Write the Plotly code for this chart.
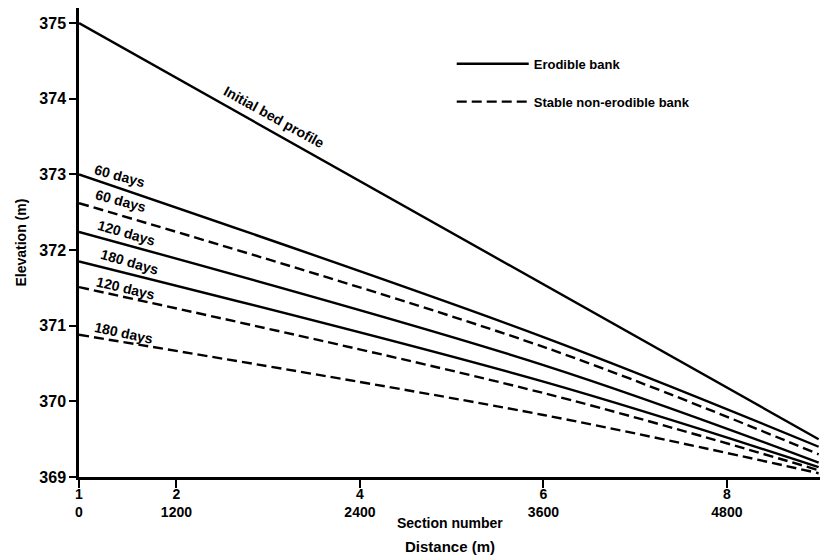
import plotly.graph_objects as go

# Distance along the reach (m) and bed elevation (m) of each computed profile
dist_initial = [0, 5400]
elev_initial = [375.0, 369.5]

dist_profile = [0, 3600, 5400]
erodible_60 = [373.00, 370.85, 369.40]
erodible_120 = [372.24, 370.48, 369.19]
erodible_180 = [371.85, 370.26, 369.13]
stable_60 = [372.62, 370.72, 369.30]
stable_120 = [371.51, 370.11, 369.09]
stable_180 = [370.88, 369.82, 369.05]

tick_distance = [0, 1200, 2400, 3600, 4800]
tick_section = [1, 2, 4, 6, 8]
elev_ticks = [369, 370, 371, 372, 373, 374, 375]

# The first 1200 m reach is drawn compressed on the horizontal axis
FIRST_REACH = 1200.0
FIRST_SCALE = 0.531


def axis_x(dists):
    out = []
    for d in dists:
        if d <= FIRST_REACH:
            out.append(d * FIRST_SCALE)
        else:
            out.append(FIRST_REACH * FIRST_SCALE + (d - FIRST_REACH))
    return out


FONT = "Liberation Sans, Arial, Helvetica, sans-serif"
LW = 2.4
DASH = "10px,5px"

fig = go.Figure()

fig.add_trace(go.Scatter(x=axis_x(dist_initial), y=elev_initial, mode="lines",
                         line=dict(color="black", width=LW), showlegend=False))

solid_series = [erodible_60, erodible_120, erodible_180]
for i, ys in enumerate(solid_series):
    fig.add_trace(go.Scatter(x=axis_x(dist_profile), y=ys, mode="lines",
                             line=dict(color="black", width=LW, shape="spline", smoothing=1.0),
                             name="Erodible bank", legendgroup="erodible",
                             showlegend=(i == 0)))

dashed_series = [stable_60, stable_120, stable_180]
for i, ys in enumerate(dashed_series):
    fig.add_trace(go.Scatter(x=axis_x(dist_profile), y=ys, mode="lines",
                             line=dict(color="black", width=LW, dash=DASH,
                                       shape="spline", smoothing=1.0),
                             name="Stable non-erodible bank", legendgroup="stable",
                             showlegend=(i == 0)))

# Curve labels: (distance, elevation, text, angle)
curve_labels = [
    (1838, 373.76, "Initial bed profile", 29),
    (505, 372.98, "60 days", 15),
    (518, 372.65, "60 days", 15),
    (591, 372.23, "120 days", 16),
    (627, 371.84, "180 days", 16),
    (567, 371.50, "120 days", 13),
    (554, 370.90, "180 days", 12),
]
for d, e, txt, ang in curve_labels:
    fig.add_annotation(x=axis_x([d])[0], y=e, xref="x", yref="y", text=txt,
                       textangle=ang, showarrow=False,
                       font=dict(family=FONT, size=14, color="black", weight="bold"))

tick_text = [f"{s}<br>{d}" for s, d in zip(tick_section, tick_distance)]

fig.update_xaxes(range=[0, 4846], tickvals=axis_x(tick_distance), ticktext=tick_text,
                 showline=True, linecolor="black", linewidth=2.5, mirror=False,
                 ticks="outside", ticklen=8, tickwidth=2, tickcolor="black",
                 ticklabelstandoff=-6,
                 showgrid=False, zeroline=False,
                 tickfont=dict(family=FONT, size=14, color="black", weight="bold"))
fig.update_yaxes(range=[369, 375.2], tickvals=elev_ticks,
                 showline=True, linecolor="black", linewidth=2.5, mirror=False,
                 ticks="outside", ticklen=7, tickwidth=2, tickcolor="black",
                 showgrid=False, zeroline=False,
                 tickfont=dict(family=FONT, size=16, color="black", weight="bold"))

fig.add_annotation(x=-0.0796, y=0.50, xref="paper", yref="paper", text="Elevation (m)",
                   textangle=-90, showarrow=False, xanchor="center", yanchor="middle",
                   font=dict(family=FONT, size=14, color="black", weight="bold"))
fig.add_annotation(x=0.5, y=-0.098, xref="paper", yref="paper", text="Section number",
                   showarrow=False, xanchor="center", yanchor="middle",
                   font=dict(family=FONT, size=14, color="black", weight="bold"))
fig.add_annotation(x=0.5, y=-0.149, xref="paper", yref="paper", text="Distance (m)",
                   showarrow=False, xanchor="center", yanchor="middle",
                   font=dict(family=FONT, size=15, color="black", weight="bold"))

fig.update_layout(
    width=820, height=559,
    margin=dict(l=79, r=0, t=8, b=82),
    paper_bgcolor="white", plot_bgcolor="white",
    legend=dict(x=0.503, y=0.913, xanchor="left", yanchor="top",
                itemwidth=72, tracegroupgap=18, bgcolor="rgba(0,0,0,0)",
                font=dict(family=FONT, size=13, color="black", weight="bold")),
)

fig.write_html("out.html")
